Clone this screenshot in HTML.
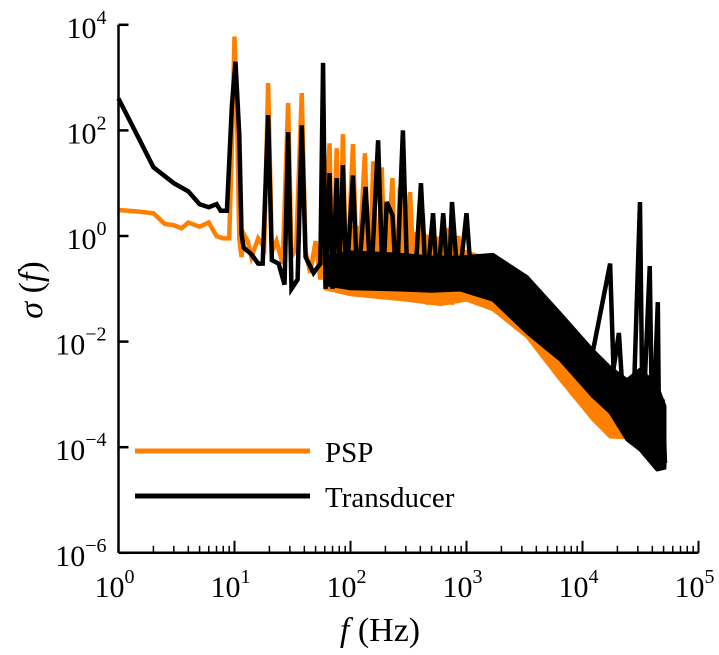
<!DOCTYPE html>
<html><head><meta charset="utf-8"><style>
html,body{margin:0;padding:0;background:#fff;}
svg{display:block;font-family:"Liberation Serif",serif;}
</style></head><body>
<svg id="chart" width="719" height="655" viewBox="0 0 719 655" xmlns="http://www.w3.org/2000/svg">
<g id="plot"></g>
<g id="axes"></g>
<g>
 <line x1="135" y1="451" x2="310" y2="451" stroke="#ff8000" stroke-width="5"/>
 <text x="325" y="462" font-size="29">PSP</text>
 <line x1="135" y1="496" x2="310" y2="496" stroke="#000" stroke-width="5"/>
 <text x="325" y="507" font-size="29">Transducer</text>
</g>
<text transform="translate(42,290) rotate(-90)" text-anchor="middle" font-size="34"><tspan font-style="italic">σ</tspan> (<tspan font-style="italic">f</tspan>)</text>
<text x="380" y="641" text-anchor="middle" font-size="34"><tspan font-style="italic">f</tspan> (Hz)</text>
</svg>
<script>
const xDecades=[0,1,2,3,4,5];
const yDecades=[4,2,0,-2,-4,-6];
const pspLine=[[1,3.1],[1.5,2.9],[2,2.7],[2.5,1.7],[3,1.6],[3.5,1.4],[4,1.8],[5,1.5],[6,1.8],[7,1.0],[8,0.9],[9,0.9],[9.5,50],[10,6000],[10.5,200],[11,0.9],[11.5,0.4],[12,1.1],[13,0.8],[14,0.4],[16,0.9],[18,0.6],[19.5,790],[21,0.5],[23,0.8],[26,0.3],[29,330],[31,0.4],[34,0.6],[38,510],[41,0.5],[45,0.2],[50,0.8],[55,0.15],[60,0.5],[66,57],[70,0.1],[76,46],[80,0.1],[86,85],[92,0.08],[105,55],[115,0.08],[133,37],[145,0.1],[157,26],[170,0.07],[186,20],[200,0.08],[230,12.5],[245,0.06],[267,8.5],[290,0.07],[326,6.8],[360,0.06],[420,2.7],[460,0.05],[515,2.7],[560,0.06],[680,1.4],[750,0.05],[850,1.0],[1000,0.06]];
const pspBandF=[60,100,300,600,1000,1690,3330,6400,12300,17300,24200];
const pspBandUpper=[0.6,1.5,1.2,0.9,0.5,0.35,0.1,0.02,0.004,0.0025,0.0015];
const pspBandLower=[0.1,0.077,0.061,0.05,0.061,0.04,0.0122,0.0019,0.00033,0.000156,0.00015];
const transLine=[[1,400],[1.5,70],[2,20],[3,10],[4,7],[5,4],[6,3.5],[7,4],[7.6,3],[8.6,3],[9.5,300],[10.2,2000],[11,80],[11.5,1.1],[12,0.6],[14,0.45],[16,0.3],[17.5,0.3],[19.5,195],[21,0.35],[24,0.3],[27,0.12],[29,93],[31,0.1],[35,0.15],[38,125],[41,0.4],[48,0.2],[55,0.3],[58,1900],[61,0.1],[66,15.6],[70,0.1],[76,12.5],[80,0.2],[86,22],[92,0.12],[105,14],[115,0.1],[135,8.5],[150,0.11],[173,65],[190,0.1],[205,4.4],[230,2.5],[250,0.1],[283,100],[310,0.12],[360,0.15],[405,10],[450,0.1],[515,2.7],[560,0.1],[630,2.7],[700,0.1],[750,4.4],[850,0.1],[1000,2.7],[1100,0.15]];
const transBandF=[60,100,270,500,880,1690,3330,6400,12300,17300,24200,31300,43900,51400];
const transBandUpper=[0.4,0.5,0.45,0.4,0.4,0.45,0.17,0.035,0.0069,0.0033,0.0019,0.003,0.0015,0.0006];
const transBandLower=[0.12,0.1,0.095,0.09,0.095,0.061,0.0146,0.0045,0.0009,0.00045,0.000137,0.000089,0.000037,0.00004];
const transHF=[[12000,0.005],[17300,0.3],[18500,0.003],[20600,0.0146],[23000,0.0003],[28000,0.002],[31300,4.4],[33000,0.0002],[38000,0.27],[40000,0.0001],[44600,0.056],[46000,0.00004],[49000,0.0008],[51400,0.00005]];

const NS='http://www.w3.org/2000/svg';
const X=f=>118.5+116*Math.log10(f);
const Y=v=>236-52.8*Math.log10(v);
const plot=document.getElementById('plot');
const axes=document.getElementById('axes');
function mk(tag,attrs,parent){const e=document.createElementNS(NS,tag);for(const k in attrs)e.setAttribute(k,attrs[k]);parent.appendChild(e);return e;}
function band(F,U,L,color,name){
  const pts=F.map((f,i)=>X(f)+','+Y(U[i])).concat(F.slice().reverse().map((f,i)=>X(f)+','+Y(L[L.length-1-i])));
  const p=mk('polygon',{points:pts.join(' '),fill:color,stroke:color,'stroke-width':3,'stroke-linejoin':'round'},plot);
  
  
}
function line(P,color,name){
  const p=mk('polyline',{points:P.map(d=>X(d[0])+','+Y(d[1])).join(' '),fill:'none',stroke:color,'stroke-width':4.5,'stroke-linejoin':'miter'},plot);
  
  
}
band(pspBandF,pspBandUpper,pspBandLower,'#ff8000','psp-band');
line(pspLine,'#ff8000','psp-line');
band(transBandF,transBandUpper,transBandLower,'#000','transducer-band');
line(transLine,'#000','transducer-line');
line(transHF,'#000','transducer-hf-spikes');

const x0=X(1),x1=X(1e5),yb=Y(1e-6),yt=Y(1e4);
let a=mk('line',{x1:x0,y1:yt,x2:x0,y2:yb,stroke:'#000','stroke-width':2.5},axes);


a=mk('line',{x1:x0,y1:yb,x2:x1,y2:yb,stroke:'#000','stroke-width':2.5},axes);


yDecades.forEach(d=>{
  const y=Y(Math.pow(10,d));
  const t=mk('line',{x1:x0,y1:y,x2:x0+10,y2:y,stroke:'#000','stroke-width':2.5},axes);
  
  
  const tx=mk('text',{x:x0-12,y:y+13,'text-anchor':'end','font-size':30},axes);
  
  
  tx.innerHTML='10<tspan dy="-14" font-size="20">'+(d<0?'−'+(-d):d)+'</tspan>';
});
xDecades.forEach(d=>{
  const x=X(Math.pow(10,d));
  const t=mk('line',{x1:x,y1:yb,x2:x,y2:yb-12,stroke:'#000','stroke-width':2},axes);
  
  
  if(d<5){for(let m=2;m<10;m++){const xm=X(m*Math.pow(10,d));
    const mt=mk('line',{x1:xm,y1:yb,x2:xm,y2:yb-7,stroke:'#000','stroke-width':1.5},axes);
    
    }}
  const tx=mk('text',{x:x-4,y:yb+44,'text-anchor':'middle','font-size':30},axes);
  
  
  tx.innerHTML='10<tspan dy="-14" font-size="20">'+d+'</tspan>';
});
</script>
</body></html>
